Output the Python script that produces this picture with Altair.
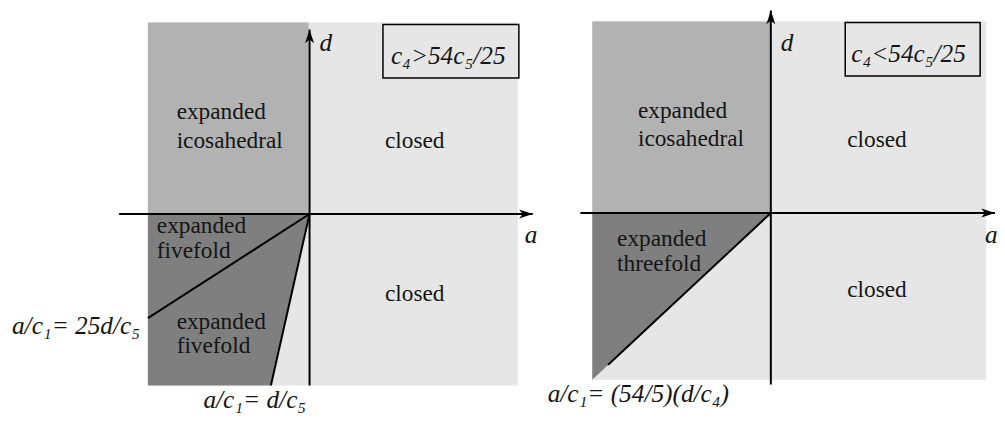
import altair as alt
import pandas as pd

# ---- panel geometry: each panel has its own (a, d) axes; origin = axis crossing (page px)
ORIGIN_X = [312, 777]
ORIGIN_Y = [214, 213]

# ---- rectangular regions (panel, a0, a1, d0, d1, fill)
RECT_PANEL = [0, 0, 1, 1]
RECT_A0 = [-163, -163, -180, -180]
RECT_A1 = [210, -1, 217, 0]
RECT_D0 = [-173, 0, -168, 0]
RECT_D1 = [193, 193, 193, 193]
RECT_FILL = ["#e6e6e6", "#b2b2b2", "#e6e6e6", "#b2b2b2"]

# ---- wedge regions as areas (panel, region, a, d_low, d_high)
AREA_PANEL = [0, 0, 0, 1, 1]
AREA_REGION = ["fivefold", "fivefold", "fivefold", "threefold", "threefold"]
AREA_A = [-163, -39, 0, -180, 0]
AREA_DLOW = [-173, -173, 0, -168, 0]
AREA_DHIGH = [0, 0, 0, 0, 0]

# ---- lines (panel, a0, d0, a1, d1)
LINE_PANEL = [0, 0, 0, 0, 1, 1, 1]
LINE_A0 = [-192, 0, 0, 0, -192, 0, 0]
LINE_D0 = [0, -173, 0, 0, 0, -173, 0]
LINE_A1 = [225, 0, -163, -39, 226, 0, -164]
LINE_D1 = [0, 186, -105, -173, 0, 204, -153]

# ---- arrow heads (panel, a, d, direction angle)
ARROW_PANEL = [0, 0, 1, 1]
ARROW_A = [225, 0, 226, 0]
ARROW_D = [0, 186, 0, 204]
ARROW_ANGLE = [90, 0, 90, 0]

# ---- condition boxes (panel, a0, a1, d0, d1)
BOX_PANEL = [0, 1]
BOX_A0 = [74, 75]
BOX_A1 = [211, 211]
BOX_D0 = [137, 138]
BOX_D1 = [191, 192]

# ---- labels (panel, a, d(baseline), text, italic)
TEXT_PANEL = [0] * 13 + [1] * 10
TEXT_A = [-134, -134, 76, -154, -154, 76, -134, -134, -300, -107, 10, 217, 82,
          -134, -134, 77, -155, -155, 77, -225, 10, 216, 81]
TEXT_D = [96, 67, 67, -19, -44, -88, -116, -140, -121, -196, 164, -29, 151,
          96, 68, 67, -33, -58, -85, -191, 163, -30, 152]
TEXT_LABEL = ["expanded", "icosahedral", "closed", "expanded", "fivefold", "closed",
              "expanded", "fivefold", "a/c₁= 25d/c₅", "a/c₁= d/c₅", "d", "a", "c₄>54c₅/25",
              "expanded", "icosahedral", "closed", "expanded", "threefold", "closed",
              "a/c₁= (54/5)(d/c₄)", "d", "a", "c₄<54c₅/25"]
TEXT_ITALIC = [False] * 8 + [True] * 5 + [False] * 6 + [True] * 4


def px(panel, a):
    return [ORIGIN_X[p] + v for p, v in zip(panel, a)]


def py(panel, d):
    return [ORIGIN_Y[p] - v for p, v in zip(panel, d)]


rects = pd.DataFrame({
    "x": px(RECT_PANEL, RECT_A0), "x2": px(RECT_PANEL, RECT_A1),
    "y": py(RECT_PANEL, RECT_D1), "y2": py(RECT_PANEL, RECT_D0),
    "fill": RECT_FILL,
})
areas = pd.DataFrame({
    "x": px(AREA_PANEL, AREA_A), "y": py(AREA_PANEL, AREA_DLOW),
    "y2": py(AREA_PANEL, AREA_DHIGH),
    "region": [f"{r}{p}" for r, p in zip(AREA_REGION, AREA_PANEL)],
})
lines = pd.DataFrame({
    "x": px(LINE_PANEL, LINE_A0), "y": py(LINE_PANEL, LINE_D0),
    "x2": px(LINE_PANEL, LINE_A1), "y2": py(LINE_PANEL, LINE_D1),
})
arrows = pd.DataFrame({
    "x": px(ARROW_PANEL, ARROW_A), "y": py(ARROW_PANEL, ARROW_D), "angle": ARROW_ANGLE,
})
boxes = pd.DataFrame({
    "x": px(BOX_PANEL, BOX_A0), "x2": px(BOX_PANEL, BOX_A1),
    "y": py(BOX_PANEL, BOX_D1), "y2": py(BOX_PANEL, BOX_D0),
})
texts = pd.DataFrame({
    "x": px(TEXT_PANEL, TEXT_A), "y": py(TEXT_PANEL, TEXT_D),
    "label": TEXT_LABEL, "italic": TEXT_ITALIC,
})

FONT = "Liberation Serif"

W, H = 997, 407
xs = alt.Scale(domain=[8, 8 + W], range=[0, W], nice=False, zero=False)
ys = alt.Scale(domain=[8, 8 + H], range=[0, H], nice=False, zero=False)
X = lambda f="x": alt.X(f"{f}:Q", scale=xs, axis=None)
Y = lambda f="y": alt.Y(f"{f}:Q", scale=ys, axis=None)

rect_layer = alt.Chart(rects).mark_rect(strokeWidth=0).encode(
    x=X(), x2="x2", y=Y(), y2="y2", fill=alt.Fill("fill:N", scale=None))

area_layer = alt.Chart(areas).mark_area(color="#7f7f7f", interpolate="linear").encode(
    x=X(), y=Y(), y2="y2", detail="region:N")

line_layer = alt.Chart(lines).mark_rule(color="#000000", strokeWidth=2).encode(
    x=X(), y=Y(), x2="x2", y2="y2")

ARROW_PATH = "M0,0 L0.75,2.3 L0,1.7 L-0.75,2.3 Z"
arrow_layer = alt.Chart(arrows).mark_point(
    shape=ARROW_PATH, filled=True, color="#000000", size=144, opacity=1, strokeWidth=0
).encode(x=X(), y=Y(), angle=alt.Angle("angle:Q", scale=None))

box_layer = alt.Chart(boxes).mark_rect(fill="transparent", stroke="#000000", strokeWidth=1.5).encode(
    x=X(), x2="x2", y=Y(), y2="y2")

plain_layer = alt.Chart(texts).transform_filter("!datum.italic").mark_text(
    font=FONT, fontSize=23.5, align="left", baseline="alphabetic", color="#151515"
).encode(x=X(), y=Y(), text="label:N")

italic_layer = alt.Chart(texts).transform_filter("datum.italic").mark_text(
    font=FONT, fontSize=25.5, fontStyle="italic", align="left",
    baseline="alphabetic", color="#151515"
).encode(x=X(), y=Y(), text="label:N")

chart = alt.layer(
    rect_layer, area_layer, line_layer, arrow_layer, box_layer, plain_layer, italic_layer
).properties(
    width=W, height=H, padding=0, autosize=alt.AutoSizeParams(type="none"),
    background="#ffffff"
).configure_view(strokeWidth=0)

chart.save("out.html", embed_options={"renderer": "svg", "actions": False})
